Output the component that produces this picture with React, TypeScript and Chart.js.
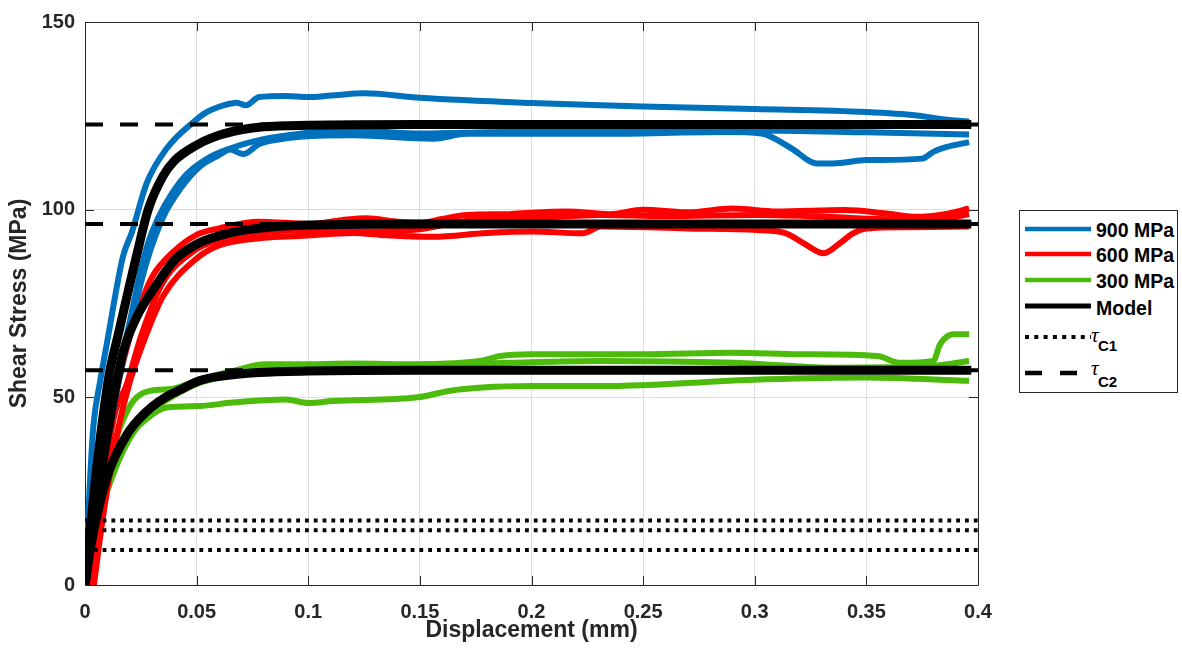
import React, { useEffect, useRef } from "react";
import { Chart, registerables } from "chart.js";

Chart.register(...registerables);

// ---------- axis ticks ----------
const xTicks = [0, 0.05, 0.1, 0.15, 0.2, 0.25, 0.3, 0.35, 0.4];
const yTicks = [0, 50, 100, 150];

// ---------- model curves ----------
const model900X = [0, 0.0025, 0.005, 0.007, 0.0108, 0.015, 0.02, 0.023, 0.0283, 0.035, 0.04, 0.05, 0.06, 0.07, 0.08, 0.1, 0.15, 0.25, 0.397];
const model900Y = [0, 16, 30, 40, 56, 67, 80, 87.5, 100, 109, 113, 117.2, 119.8, 121.3, 122.1, 122.5, 122.7, 122.7, 122.7];
const model600X = [0, 0.0025, 0.005, 0.0075, 0.0106, 0.0134, 0.0172, 0.023, 0.032, 0.0405, 0.05, 0.0575, 0.07, 0.08, 0.1, 0.15, 0.25, 0.397];
const model600Y = [0, 11, 21, 31, 42, 51.7, 62.3, 71.2, 80, 86.8, 90.8, 92.6, 94.4, 95.2, 95.9, 96.2, 96.2, 96.2];
const model300X = [0, 0.0022, 0.0067, 0.0112, 0.0187, 0.0239, 0.03, 0.036, 0.0426, 0.0515, 0.0605, 0.078, 0.1, 0.15, 0.25, 0.397];
const model300Y = [0, 9, 22, 31, 40, 44, 47.5, 50, 52, 54.5, 55.6, 56.6, 57, 57.2, 57.2, 57.2];

// ---------- 900 MPa experiments ----------
const exp900aX = [0, 0.001, 0.002, 0.0037, 0.0067, 0.01, 0.017, 0.021, 0.0276, 0.0366, 0.0485, 0.0545, 0.062, 0.068, 0.072, 0.078, 0.09, 0.1, 0.11, 0.125, 0.15, 0.2, 0.231, 0.25, 0.3, 0.35, 0.3725, 0.385, 0.396];
const exp900aY = [0, 12, 25, 42, 54, 65, 87.5, 94, 107, 116.3, 123.3, 126, 127.8, 128.5, 127.8, 130, 130.3, 130, 130.4, 131, 129.8, 128.4, 127.8, 127.5, 126.8, 126, 125.1, 124, 123.5];
const exp900bX = [0, 0.0025, 0.005, 0.01, 0.015, 0.02, 0.0254, 0.03, 0.0426, 0.0545, 0.065, 0.08, 0.1, 0.111, 0.13, 0.15, 0.18, 0.2, 0.25, 0.287, 0.3, 0.35, 0.396];
const exp900bY = [0, 10, 21, 41, 57, 70, 85, 94, 107.4, 113.5, 116.3, 118.8, 120.5, 121.1, 120.8, 120.3, 120.6, 120.8, 121, 121, 121.1, 120.6, 120];
const exp900cX = [0, 0.0025, 0.005, 0.01, 0.015, 0.02, 0.0276, 0.035, 0.0426, 0.0515, 0.06, 0.065, 0.071, 0.078, 0.09, 0.0963, 0.12, 0.156, 0.171, 0.231, 0.287, 0.303, 0.316, 0.328, 0.335, 0.35, 0.375, 0.38, 0.386, 0.396];
const exp900cY = [0, 9, 19, 38, 54, 68, 86, 98, 105.5, 111.5, 114.5, 116, 114.8, 117.5, 119, 119.4, 119.8, 118.9, 120.2, 120.2, 120.7, 120.3, 116.5, 112.3, 112.3, 113.2, 113.6, 115.4, 116.7, 118];

// ---------- 600 MPa experiments ----------
const exp600aX = [0.003, 0.006, 0.01, 0.015, 0.02, 0.025, 0.03, 0.04, 0.05, 0.06, 0.078, 0.09, 0.1, 0.115, 0.126, 0.14, 0.15, 0.16, 0.171, 0.19, 0.2, 0.216, 0.235, 0.25, 0.27, 0.29, 0.31, 0.34, 0.36, 0.3725, 0.385, 0.396];
const exp600aY = [0, 20, 38, 54, 66, 75, 82, 89, 93.3, 95, 96.8, 96.5, 96.2, 97.2, 97.7, 96.8, 96.5, 97.5, 98.6, 98.8, 99.2, 99.5, 98.8, 100, 99.3, 100.3, 99.5, 99.9, 98.9, 98.1, 98.8, 100.3];
const exp600bX = [0.0035, 0.0067, 0.0127, 0.0187, 0.0254, 0.0343, 0.0485, 0.06, 0.08, 0.1, 0.12, 0.15, 0.165, 0.18, 0.2, 0.231, 0.26, 0.3, 0.33, 0.35, 0.38, 0.396];
const exp600bY = [0, 17, 44, 53.5, 66.8, 80, 88.9, 92, 94, 94.5, 94.2, 94.8, 96.5, 97.5, 97.8, 98.6, 98.3, 98.6, 98.2, 97.6, 97.3, 98.8];
const exp600cX = [0.004, 0.008, 0.015, 0.02, 0.027, 0.035, 0.05, 0.06, 0.08, 0.096, 0.12, 0.135, 0.156, 0.18, 0.2, 0.223, 0.231, 0.27, 0.301, 0.314, 0.322, 0.331, 0.338, 0.344, 0.35, 0.37, 0.396];
const exp600cY = [0, 18, 42, 54, 66, 77, 87, 90.5, 92.5, 93, 93.8, 93.2, 92.8, 93.8, 94.2, 93.7, 95.5, 95, 94.6, 93.7, 91, 88.4, 91, 93.7, 95, 95.3, 95.5];

// ---------- 300 MPa experiments ----------
const exp300aX = [0, 0.004, 0.0083, 0.0112, 0.0157, 0.0216, 0.029, 0.0395, 0.0515, 0.066, 0.081, 0.096, 0.12, 0.1486, 0.165, 0.177, 0.186, 0.2, 0.223, 0.25, 0.29, 0.32, 0.355, 0.365, 0.38, 0.383, 0.389, 0.396];
const exp300aY = [0, 13, 25, 33, 42, 49, 51.7, 52.3, 54.8, 57, 58.8, 58.8, 59, 58.8, 59.1, 59.7, 61, 61.5, 61.5, 61.5, 61.9, 61.5, 61, 59.2, 59.7, 64.1, 66.8, 66.8];
const exp300bX = [0, 0.004, 0.0083, 0.012, 0.018, 0.027, 0.0366, 0.0515, 0.066, 0.09, 0.1, 0.111, 0.149, 0.163, 0.178, 0.2, 0.231, 0.305, 0.35, 0.396];
const exp300bY = [0, 12, 22, 30, 38, 44, 47.3, 47.7, 48.6, 49.4, 48.5, 49, 50, 51.7, 52.6, 53, 53, 54.8, 55.3, 54.4];
const exp300cX = [0, 0.004, 0.0083, 0.015, 0.02, 0.0246, 0.03, 0.04, 0.0515, 0.066, 0.081, 0.096, 0.12, 0.15, 0.19, 0.231, 0.29, 0.335, 0.38, 0.396];
const exp300cY = [0, 12, 22, 33, 39, 43, 46.5, 50.5, 53.9, 56, 57.9, 57.9, 58.3, 58.5, 59.2, 59.7, 59.2, 57.9, 58.4, 59.7];

// ---------- reference levels ----------
const tauC1Levels = [17.2, 14.6, 9.3];
const tauC2Levels = [122.7, 96.2, 57.2];
const refLineX = [0, 0.4];

const BLUE = "#0072BD";
const RED = "#FF0000";
const GREEN = "#4CBB0C";
const FONT = '"Liberation Sans", Arial, Helvetica, sans-serif';

const zip = (xs: number[], ys: number[]) => xs.map((x, i) => ({ x, y: ys[i] }));

const framePlugin = {
  id: "frame",
  beforeDatasetsDraw(chart: any) {
    const { ctx, chartArea, scales } = chart;
    const { left, top, right, bottom } = chartArea;
    ctx.save();
    ctx.strokeStyle = "#262626";
    ctx.lineWidth = 1;
    ctx.beginPath();
    ctx.rect(Math.round(left) + 0.5, Math.round(top) + 0.5, Math.round(right - left), Math.round(bottom - top));
    const tl = 9;
    xTicks.forEach((v) => {
      const px = Math.round(scales.x.getPixelForValue(v)) + 0.5;
      ctx.moveTo(px, bottom);
      ctx.lineTo(px, bottom - tl);
      ctx.moveTo(px, top);
      ctx.lineTo(px, top + tl);
    });
    yTicks.forEach((v) => {
      const py = Math.round(scales.y.getPixelForValue(v)) + 0.5;
      ctx.moveTo(left, py);
      ctx.lineTo(left + tl, py);
      ctx.moveTo(right, py);
      ctx.lineTo(right - tl, py);
    });
    ctx.stroke();
    ctx.restore();
  },
};

function expDs(label: string, xs: number[], ys: number[], color: string) {
  return {
    label,
    data: zip(xs, ys),
    borderColor: color,
    borderWidth: 6,
    pointRadius: 0,
    cubicInterpolationMode: "monotone" as const,
    order: 3,
  };
}

function modelDs(xs: number[], ys: number[]) {
  return {
    label: "Model",
    data: zip(xs, ys),
    borderColor: "#000000",
    borderWidth: 9,
    pointRadius: 0,
    cubicInterpolationMode: "monotone" as const,
    order: 0,
  };
}

export default function App() {
  const ref = useRef<HTMLCanvasElement | null>(null);

  useEffect(() => {
    if (!ref.current) return;
    const datasets: any[] = [
      modelDs(model900X, model900Y),
      modelDs(model600X, model600Y),
      modelDs(model300X, model300Y),
      ...tauC2Levels.map((lv) => ({
        label: "tauC2",
        data: zip(refLineX, [lv, lv]),
        borderColor: "#000",
        borderWidth: 4,
        borderDash: [18, 17],
        borderCapStyle: "butt",
        pointRadius: 0,
        order: 1,
      })),
      ...tauC1Levels.map((lv) => ({
        label: "tauC1",
        data: zip(refLineX, [lv, lv]),
        borderColor: "#000",
        borderWidth: 4,
        borderDash: [3.8, 5],
        borderCapStyle: "butt",
        pointRadius: 0,
        order: 1,
      })),
      expDs("900 MPa", exp900aX, exp900aY, BLUE),
      expDs("900 MPa", exp900bX, exp900bY, BLUE),
      expDs("900 MPa", exp900cX, exp900cY, BLUE),
      expDs("600 MPa", exp600aX, exp600aY, RED),
      expDs("600 MPa", exp600bX, exp600bY, RED),
      expDs("600 MPa", exp600cX, exp600cY, RED),
      expDs("300 MPa", exp300aX, exp300aY, GREEN),
      expDs("300 MPa", exp300bX, exp300bY, GREEN),
      expDs("300 MPa", exp300cX, exp300cY, GREEN),
    ];

    const chart = new Chart(ref.current, {
      type: "line",
      data: { datasets },
      options: {
        responsive: false,
        animation: false,
        devicePixelRatio: 1,
        layout: { padding: { top: 20, right: 204, left: 0, bottom: 0 } },
        plugins: { legend: { display: false }, tooltip: { enabled: false } },
        scales: {
          x: {
            type: "linear",
            min: 0,
            max: 0.4,
            afterFit: (s: any) => {
              s.height = 69;
            },
            afterBuildTicks: (s: any) => {
              s.ticks = xTicks.map((v) => ({ value: v }));
            },
            ticks: {
              padding: 15,
              color: "#262626",
              font: { family: FONT, size: 20, weight: "bold" },
              callback: (v: any) => String(Number(Number(v).toFixed(2))),
            },
            grid: { color: "#dedede", drawTicks: false, lineWidth: 1 },
            border: { display: false },
            title: {
              display: true,
              text: "Displacement (mm)",
              color: "#262626",
              font: { family: FONT, size: 23, weight: "bold" },
              padding: { top: 0, bottom: 9.5 },
            },
          },
          y: {
            type: "linear",
            min: 0,
            max: 150,
            afterFit: (s: any) => {
              s.width = 85;
            },
            afterBuildTicks: (s: any) => {
              s.ticks = yTicks.map((v) => ({ value: v }));
            },
            ticks: {
              padding: 10,
              color: "#262626",
              font: { family: FONT, size: 20, weight: "bold" },
            },
            grid: { color: "#dedede", drawTicks: false, lineWidth: 1 },
            border: { display: false },
            title: {
              display: true,
              text: "Shear Stress (MPa)",
              color: "#262626",
              font: { family: FONT, size: 23, weight: "bold" },
              padding: { top: 6, bottom: 0 },
            },
          },
        },
      },
      plugins: [framePlugin],
    });
    return () => chart.destroy();
  }, []);

  const legendRows = [
    { label: "900 MPa", color: BLUE, width: 4.5, cy: 228.5 },
    { label: "600 MPa", color: RED, width: 4.5, cy: 253.5 },
    { label: "300 MPa", color: GREEN, width: 4.5, cy: 279.5 },
    { label: "Model", color: "#000", width: 5, cy: 306 },
  ];

  const textStyle: React.CSSProperties = {
    position: "absolute",
    left: 1096,
    fontFamily: FONT,
    fontWeight: "bold",
    fontSize: 19.5,
    lineHeight: "22px",
    height: 22,
    color: "#000",
    whiteSpace: "nowrap",
  };

  const tauStyle: React.CSSProperties = {
    position: "absolute",
    left: 1091,
    fontFamily: '"Liberation Serif", "DejaVu Serif", serif',
    fontStyle: "italic",
    fontSize: 21,
    lineHeight: "21px",
    color: "#000",
  };
  const subStyle: React.CSSProperties = {
    position: "absolute",
    left: 1098,
    fontFamily: FONT,
    fontWeight: "bold",
    fontSize: 15,
    lineHeight: "15px",
    color: "#000",
  };

  return (
    <div style={{ position: "fixed", left: 0, top: 0, width: 1182, height: 654, background: "#fff", fontFamily: FONT }}>
      <canvas ref={ref} width={1182} height={654} style={{ position: "absolute", left: 0, top: 0 }} />
      <div
        style={{
          position: "absolute",
          left: 1019,
          top: 210,
          width: 159,
          height: 183,
          boxSizing: "border-box",
          border: "1px solid #262626",
          background: "#fff",
        }}
      />
      {legendRows.map((r) => (
        <React.Fragment key={r.label}>
          <svg width={66} height={12} style={{ position: "absolute", left: 1025, top: r.cy - 6 }}>
            <line x1={0} y1={6} x2={66} y2={6} stroke={r.color} strokeWidth={r.width} />
          </svg>
          <div style={{ ...textStyle, top: r.cy + 1.5 - 11 }}>{r.label}</div>
        </React.Fragment>
      ))}
      <svg width={66} height={12} style={{ position: "absolute", left: 1025, top: 337 - 6 }}>
        <line x1={0} y1={6} x2={66} y2={6} stroke="#000" strokeWidth={4} strokeDasharray="4 5.3" />
      </svg>
      <svg width={66} height={12} style={{ position: "absolute", left: 1025, top: 373 - 6 }}>
        <line x1={0} y1={6} x2={66} y2={6} stroke="#000" strokeWidth={4.5} strokeDasharray="17 18" />
      </svg>
      <span style={{ ...tauStyle, top: 325 }}>τ</span>
      <span style={{ ...subStyle, top: 338 }}>C1</span>
      <span style={{ ...tauStyle, top: 358 }}>τ</span>
      <span style={{ ...subStyle, top: 373.5 }}>C2</span>
    </div>
  );
}
